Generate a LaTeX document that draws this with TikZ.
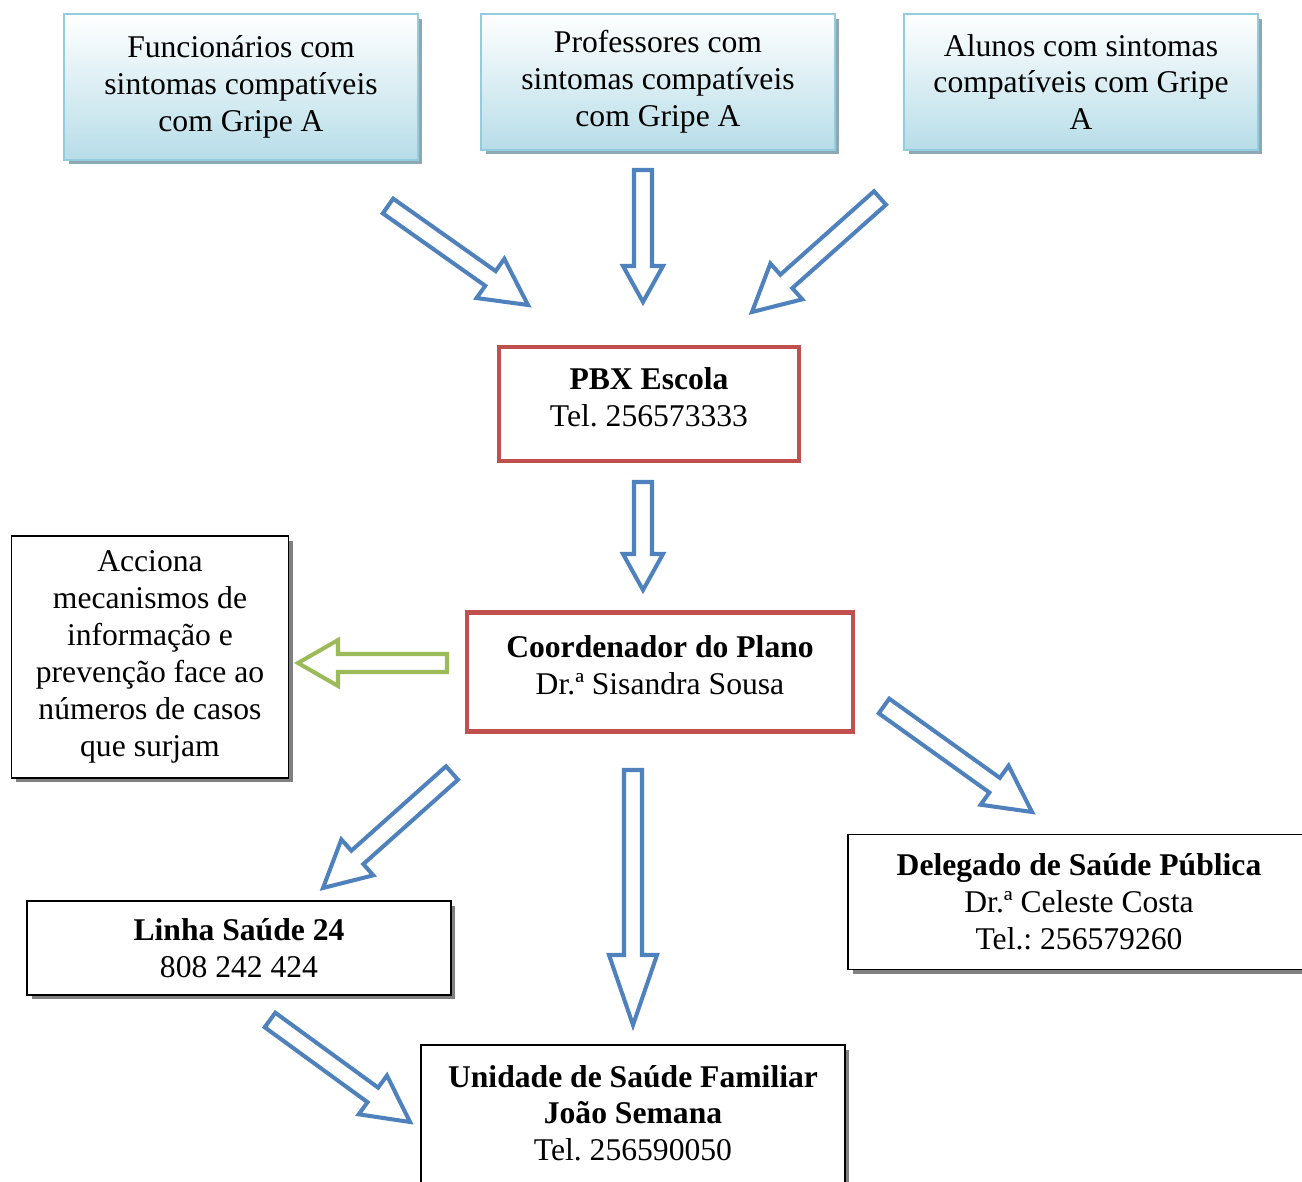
\documentclass[tikz,border=0pt]{standalone}
\usepackage{fontspec}
\setmainfont{Liberation Serif}
\frenchspacing
\usetikzlibrary{calc,shadows}
\definecolor{arrowblue}{HTML}{4F81BD}
\definecolor{arrowgreen}{HTML}{9BBB59}
\definecolor{boxred}{HTML}{C0504D}
\definecolor{topfill}{HTML}{B7DDE8}
\definecolor{topline}{HTML}{93CDDD}
\definecolor{topshadow}{HTML}{8CA8B3}
\tikzset{
	every node/.style={font=\fontsize{18}{21}\selectfont, align=center, inner sep=0pt},
	topbox/.style={draw=topline, line width=1.2pt, top color=white, bottom color=topfill,
		drop shadow={shadow xshift=0.09cm, shadow yshift=-0.09cm, fill=topshadow, opacity=1}},
	redbox/.style={draw=boxred, line width=2.3pt, fill=white, text depth=8pt},
	blackbox/.style={draw, line width=1pt, fill=white,
		drop shadow={shadow xshift=0.09cm, shadow yshift=-0.09cm, fill=gray, opacity=1}},
	blockline/.style={line width=2.3pt, fill=white, line join=miter},
}
% seta larga: [cor]{origem}{ponta}{comprimento da ponta}{meia largura da ponta}
\newcommand{\blockarrow}[5][arrowblue]{%
	\coordinate (hb) at ($(#3)!#4!(#2)$);
	\draw[blockline, draw=#1] ($(#2)!0.18cm!90:(#3)$) -- ($(hb)!0.18cm!-90:(#2)$) -- ($(hb)!#5!-90:(#2)$) -- (#3)
		-- ($(hb)!#5!90:(#2)$) -- ($(hb)!0.18cm!90:(#2)$) -- ($(#2)!0.18cm!-90:(#3)$) -- cycle;}
\begin{document}
\begin{tikzpicture}[x=0.02cm, y=-0.02cm]
	\useasboundingbox (0,0) rectangle (1302,1182);
	%caixas de cima
	\node[topbox, minimum width=7.08cm, minimum height=2.92cm] (funcionarios) at (241,87) {Funcionários com\\sintomas compatíveis\\com Gripe A};
	\node[topbox, minimum width=7.08cm, minimum height=2.72cm] (professores) at (658,82) {Professores com\\sintomas compatíveis\\com Gripe A};
	\node[topbox, minimum width=7.08cm, minimum height=2.72cm] (alunos) at (1081,82) {Alunos com sintomas\\compatíveis com Gripe\\A};
	%centro
	\node[redbox, minimum width=6cm, minimum height=2.28cm] (pbx) at (649,404) {\textbf{PBX Escola}\\Tel. 256573333};
	\node[redbox, minimum width=7.72cm, minimum height=2.38cm] (coordenador) at (660,672) {\textbf{Coordenador do Plano}\\Dr.ª Sisandra Sousa};
	%contactos
	\node[blackbox, minimum width=5.54cm, minimum height=4.84cm] (accao) at (150,657) {Acciona\\mecanismos de\\informação e\\prevenção face ao\\números de casos\\que surjam};
	\node[blackbox, minimum width=8.48cm, minimum height=1.88cm] (linha) at (239,948) {\textbf{Linha Saúde 24}\\808 242 424};
	\node[blackbox, minimum width=9.24cm, minimum height=2.7cm] (delegado) at (1079,902) {\textbf{Delegado de Saúde Pública}\\Dr.ª Celeste Costa\\Tel.: 256579260};
	\node[blackbox, text depth=8pt, minimum width=8.48cm, minimum height=3cm] (unidade) at (633,1120) {\textbf{Unidade de Saúde Familiar}\\\textbf{João Semana}\\Tel. 256590050};
	%setas
	\coordinate (a1s) at (388,206); \coordinate (a1e) at (528,305);
	\coordinate (a2s) at (643,170); \coordinate (a2e) at (643,302);
	\coordinate (a3s) at (880,198); \coordinate (a3e) at (752,312);
	\coordinate (a4s) at (643,482); \coordinate (a4e) at (643,590);
	\coordinate (a5s) at (447,663); \coordinate (a5e) at (298,663);
	\coordinate (a6s) at (452,773); \coordinate (a6e) at (323,888);
	\coordinate (a7s) at (633,770); \coordinate (a7e) at (633,1025);
	\coordinate (a8s) at (884,706); \coordinate (a8e) at (1032,812);
	\coordinate (a9s) at (270,1020); \coordinate (a9e) at (410,1122);
	\blockarrow{a1s}{a1e}{0.92cm}{0.48cm}
	\blockarrow{a2s}{a2e}{0.72cm}{0.4cm}
	\blockarrow{a3s}{a3e}{0.92cm}{0.48cm}
	\blockarrow{a4s}{a4e}{0.72cm}{0.4cm}
	\blockarrow[arrowgreen]{a5s}{a5e}{0.8cm}{0.46cm}
	\blockarrow{a6s}{a6e}{0.92cm}{0.48cm}
	\blockarrow{a7s}{a7e}{1.4cm}{0.48cm}
	\blockarrow{a8s}{a8e}{0.92cm}{0.48cm}
	\blockarrow{a9s}{a9e}{0.92cm}{0.48cm}
\end{tikzpicture}
\end{document}
